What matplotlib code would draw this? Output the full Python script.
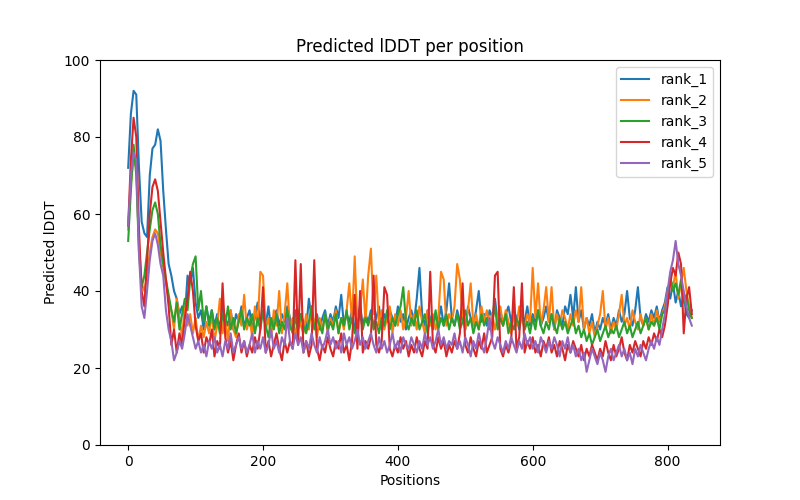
import matplotlib
matplotlib.use("Agg")
import matplotlib.pyplot as plt

# 残基位置（每 4 个取一个点）
positions = list(range(0, 840, 4))

rank_1 = [
    72, 86, 92, 91, 72, 58, 55, 54, 70, 77, 78, 82, 79, 66, 56,
    47, 44, 40, 38, 34, 36, 33, 44, 42, 46, 37, 33, 35, 30, 36,
    32, 35, 31, 34, 30, 36, 33, 31, 35, 30, 34, 32, 36, 31, 33,
    35, 30, 33, 37, 32, 34, 31, 36, 30, 33, 35, 31, 34, 32, 36,
    33, 30, 35, 31, 34, 32, 30, 38, 33, 31, 34, 30, 33, 35, 31,
    34, 32, 36, 33, 39, 31, 34, 32, 35, 30, 33, 36, 31, 34, 32,
    35, 31, 33, 36, 30, 34, 32, 35, 33, 31, 36, 32, 34, 30, 33,
    35, 32, 38, 46, 34, 31, 35, 33, 30, 34, 32, 36, 31, 35, 42,
    33, 31, 35, 32, 34, 30, 36, 33, 31, 35, 40, 32, 34, 31, 35,
    33, 38, 32, 35, 31, 34, 36, 32, 35, 33, 30, 34, 32, 36, 31,
    34, 32, 35, 31, 33, 36, 32, 34, 30, 35, 33, 31, 36, 34, 39,
    33, 41, 32, 35, 30, 33, 31, 34, 29, 32, 30, 33, 31, 34, 30,
    33, 31, 35, 32, 34, 40, 33, 31, 35, 41, 33, 31, 34, 32, 35,
    33, 36, 32, 35, 37, 41, 38, 42, 37, 40, 36, 39, 34, 33, 35,
]

rank_2 = [
    56, 68, 74, 72, 52, 42, 40, 44, 50, 54, 56, 55, 50, 46, 42,
    38, 35, 30, 38, 33, 28, 36, 31, 34, 29, 33, 27, 31, 28, 32,
    29, 34, 27, 31, 38, 29, 33, 27, 35, 30, 28, 34, 31, 39, 30,
    33, 28, 36, 31, 45, 44, 30, 33, 28, 35, 31, 40, 29, 34, 42,
    30, 33, 28, 35, 31, 29, 34, 30, 36, 32, 28, 33, 30, 34, 29,
    33, 31, 35, 29, 33, 30, 35, 42, 32, 49, 31, 35, 43, 32, 44,
    51, 34, 44, 31, 35, 30, 33, 36, 29, 34, 31, 35, 30, 33, 40,
    31, 34, 30, 36, 32, 29, 35, 31, 34, 30, 33, 45, 43, 31, 34,
    32, 36, 47, 43, 33, 30, 35, 42, 31, 34, 30, 36, 32, 35, 31,
    34, 30, 33, 36, 31, 35, 32, 29, 34, 31, 36, 33, 30, 34, 32,
    46, 33, 42, 31, 35, 41, 32, 41, 30, 34, 31, 35, 33, 30, 34,
    31, 35, 32, 41, 30, 33, 29, 32, 28, 31, 34, 40, 30, 33, 29,
    32, 30, 34, 39, 31, 33, 30, 35, 32, 30, 34, 31, 33, 30, 34,
    31, 35, 32, 34, 36, 40, 43, 41, 45, 38, 42, 46, 40, 36, 33,
]

rank_3 = [
    53, 66, 78, 70, 50, 41, 44, 50, 56, 61, 63, 60, 52, 47, 43,
    39, 35, 32, 37, 30, 34, 38, 35, 43, 47, 49, 35, 40, 32, 36,
    31, 35, 30, 33, 29, 34, 31, 36, 30, 33, 29, 32, 35, 30, 33,
    31, 34, 29, 33, 30, 35, 31, 28, 33, 30, 34, 29, 32, 30, 35,
    31, 29, 33, 30, 34, 31, 29, 32, 36, 30, 33, 31, 29, 34, 30,
    32, 30, 34, 29, 33, 31, 35, 30, 33, 29, 32, 34, 30, 33, 31,
    34, 30, 32, 29, 33, 31, 35, 30, 33, 31, 34, 36, 41, 32, 30,
    33, 31, 35, 30, 32, 34, 29, 33, 31, 35, 30, 33, 31, 34, 30,
    33, 31, 34, 30, 32, 35, 31, 33, 29, 32, 30, 34, 31, 33, 30,
    32, 36, 30, 33, 31, 34, 29, 32, 30, 33, 31, 35, 30, 32, 29,
    33, 30, 35, 31, 29, 32, 30, 34, 31, 29, 33, 30, 32, 29, 31,
    33, 29, 31, 28, 30, 27, 29, 26, 28, 30, 27, 29, 31, 28, 30,
    29, 31, 28, 30, 32, 29, 31, 28, 30, 32, 29, 31, 33, 30, 32,
    31, 33, 30, 34, 35, 38, 44, 40, 42, 39, 43, 37, 39, 35, 33,
]

rank_4 = [
    57, 74, 85, 80, 56, 40, 36, 48, 60, 67, 69, 66, 58, 50, 43,
    36, 26, 30, 24, 29, 26, 33, 38, 45, 40, 31, 27, 29, 24, 28,
    26, 30, 23, 27, 25, 42, 28, 24, 27, 22, 26, 29, 24, 27, 23,
    26, 24, 28, 25, 30, 41, 24, 27, 23, 26, 29, 25, 22, 27, 24,
    27, 25, 48, 26, 47, 24, 27, 23, 26, 48, 25, 22, 26, 24, 28,
    25, 23, 27, 25, 29, 24, 26, 22, 27, 39, 25, 40, 24, 27, 25,
    28, 44, 26, 24, 27, 41, 39, 25, 23, 26, 24, 28, 25, 27, 23,
    26, 24, 28, 25, 23, 27, 25, 45, 26, 24, 28, 25, 27, 23, 26,
    24, 27, 25, 29, 42, 26, 24, 28, 25, 23, 27, 25, 29, 24, 26,
    28, 44, 45, 25, 23, 26, 24, 27, 41, 25, 28, 42, 24, 27, 25,
    28, 24, 26, 23, 27, 25, 28, 24, 26, 23, 27, 25, 22, 26, 24,
    27, 25, 23, 26, 22, 25, 23, 26, 24, 22, 25, 23, 27, 24, 22,
    26, 23, 25, 28, 24, 22, 26, 24, 27, 25, 23, 27, 25, 28, 26,
    29, 27, 30, 28, 31, 36, 42, 46, 44, 50, 47, 29, 38, 41, 34,
]

rank_5 = [
    57, 70, 76, 74, 50, 36, 33, 40, 48, 53, 55, 52, 47, 44, 35,
    30, 27, 22, 24, 27, 25, 29, 34, 31, 28, 25, 27, 24, 26, 23,
    27, 25, 28, 24, 26, 23, 27, 25, 29, 24, 26, 28, 25, 27, 24,
    26, 29, 24, 27, 25, 28, 24, 26, 30, 25, 27, 24, 28, 26, 33,
    27, 25, 29, 26, 28, 24, 27, 25, 29, 26, 24, 28, 25, 27, 30,
    26, 28, 25, 27, 24, 29, 26, 28, 25, 27, 30, 26, 28, 25, 27,
    29, 26, 24, 28, 25, 27, 24, 26, 29, 25, 27, 24, 28, 26, 25,
    28, 26, 24, 27, 25, 29, 26, 28, 25, 27, 30, 26, 28, 25, 27,
    26, 29, 25, 27, 24, 28, 26, 23, 27, 25, 29, 26, 24, 28, 33,
    27, 25, 28, 26, 24, 27, 25, 28, 26, 24, 27, 25, 29, 26, 28,
    25, 27, 24, 28, 26, 24, 27, 25, 28, 26, 23, 27, 25, 28, 24,
    26, 23, 25, 22, 24, 19, 22, 25, 23, 21, 24, 22, 19, 23, 25,
    22, 24, 26, 23, 25, 22, 24, 21, 25, 23, 26, 24, 22, 25, 27,
    25, 28, 26, 30, 34, 40, 45, 48, 53, 47, 44, 40, 36, 33, 31,
]

series = [rank_1, rank_2, rank_3, rank_4, rank_5]
labels = ["rank_1", "rank_2", "rank_3", "rank_4", "rank_5"]

fig, ax = plt.subplots(figsize=(8, 5), dpi=100)

for vals, lab in zip(series, labels):
    ax.plot(positions, vals, label=lab)

ax.set_ylim(0, 100)
ax.set_title("Predicted lDDT per position")
ax.set_xlabel("Positions")
ax.set_ylabel("Predicted lDDT")
ax.legend(loc="upper right")

fig.savefig("out.png")
